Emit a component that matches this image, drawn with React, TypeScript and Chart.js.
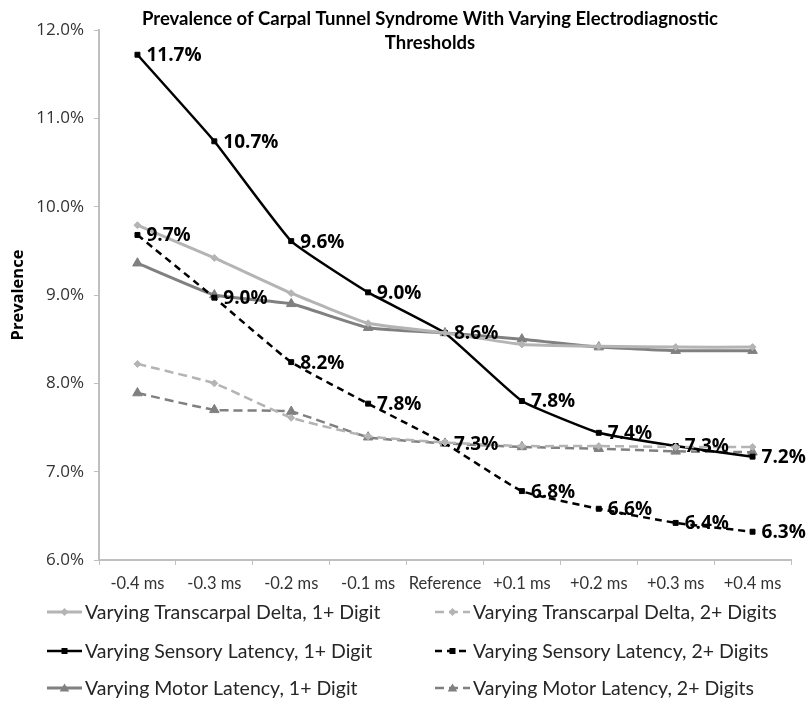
import React, { useEffect, useRef } from 'react';
import { Chart, registerables } from 'chart.js';

Chart.register(...registerables);

const categories = ['-0.4 ms', '-0.3 ms', '-0.2 ms', '-0.1 ms', 'Reference', '+0.1 ms', '+0.2 ms', '+0.3 ms', '+0.4 ms'];
const transcarpal1 = [9.79, 9.42, 9.02, 8.68, 8.57, 8.44, 8.42, 8.41, 8.41];
const transcarpal2 = [8.22, 8.0, 7.61, 7.4, 7.33, 7.29, 7.29, 7.28, 7.28];
const sensory1 = [11.72, 10.74, 9.61, 9.03, 8.57, 7.8, 7.44, 7.29, 7.17];
const sensory2 = [9.68, 8.97, 8.24, 7.77, 7.32, 6.78, 6.58, 6.42, 6.32];
const motor1 = [9.36, 9.0, 8.9, 8.63, 8.57, 8.5, 8.41, 8.37, 8.37];
const motor2 = [7.89, 7.7, 7.68, 7.39, 7.32, 7.28, 7.26, 7.23, 7.22];
const seriesNames = [
  'Varying Transcarpal Delta, 1+ Digit',
  'Varying Transcarpal Delta, 2+ Digits',
  'Varying Sensory Latency, 1+ Digit',
  'Varying Sensory Latency, 2+ Digits',
  'Varying Motor Latency, 1+ Digit',
  'Varying Motor Latency, 2+ Digits',
];
const labelledSeries = [2, 3];
const titleLines = ['Prevalence of Carpal Tunnel Syndrome With Varying Electrodiagnostic', 'Thresholds'];
const yAxisTitle = 'Prevalence';
const yMin = 6;
const yMax = 12;
const yStep = 1;

const LIGHT = '#b4b4b4';
const DARK = '#808080';
const BLACK = '#000000';

function drawMarker(ctx: CanvasRenderingContext2D, style: string, x: number, y: number, r: number, color: string) {
  ctx.save();
  ctx.fillStyle = color;
  ctx.setLineDash([]);
  ctx.beginPath();
  if (style === 'rect') {
    ctx.rect(x - r, y - r, 2 * r, 2 * r);
  } else if (style === 'rectRot') {
    ctx.moveTo(x, y - r * 1.3);
    ctx.lineTo(x + r * 1.3, y);
    ctx.lineTo(x, y + r * 1.3);
    ctx.lineTo(x - r * 1.3, y);
    ctx.closePath();
  } else {
    const s = r * 1.6;
    ctx.moveTo(x, y - s * 0.7);
    ctx.lineTo(x + s * 0.75, y + s * 0.55);
    ctx.lineTo(x - s * 0.75, y + s * 0.55);
    ctx.closePath();
  }
  ctx.fill();
  ctx.restore();
}

const overlayPlugin = {
  id: 'overlay',
  afterDatasetsDraw(chart: any) {
    const ctx: CanvasRenderingContext2D = chart.ctx;
    ctx.save();
    // data labels
    ctx.font = 'bold 19px "Open Sans"';
    ctx.fillStyle = '#000';
    ctx.textAlign = 'left';
    ctx.textBaseline = 'middle';
    labelledSeries.forEach((di) => {
      const meta = chart.getDatasetMeta(di);
      meta.data.forEach((pt: any, i: number) => {
        const v = chart.data.datasets[di].data[i] as number;
        ctx.fillText(v.toFixed(1) + '%', pt.x + 9, pt.y + 1);
      });
    });
    // title
    const ca = chart.chartArea;
    ctx.font = 'bold 18.5px Lato';
    ctx.textAlign = 'center';
    const cx = (ca.left + ca.right) / 2 - 15;
    ctx.fillText(titleLines[0], cx, 19);
    ctx.fillText(titleLines[1], cx, 43);
    // legend
    const colX = [47, 435];
    const rowY = [612, 651, 688];
    ctx.font = '19.5px Lato';
    ctx.textAlign = 'left';
    chart.data.datasets.forEach((ds: any, i: number) => {
      const col = i % 2;
      const row = Math.floor(i / 2);
      const x0 = colX[col];
      const y = rowY[row];
      ctx.save();
      ctx.strokeStyle = ds.borderColor;
      ctx.lineWidth = ds.borderWidth;
      ctx.setLineDash(ds.borderDash || []);
      ctx.beginPath();
      ctx.moveTo(x0, y);
      ctx.lineTo(x0 + 35, y);
      ctx.stroke();
      ctx.restore();
      drawMarker(ctx, ds.pointStyle, x0 + 17.5, y, ds.pointStyle === 'triangle' ? 4 : 3, ds.borderColor);
      ctx.fillStyle = '#262626';
      ctx.fillText(ds.label, x0 + 38, y + 1);
    });
    ctx.restore();
  },
};

function makeDataset(label: string, data: number[], color: string, style: string, dashed: boolean, width: number, radius: number) {
  return {
    label,
    data,
    borderColor: color,
    backgroundColor: color,
    pointBackgroundColor: color,
    pointBorderColor: color,
    borderWidth: width,
    borderDash: dashed ? (color === BLACK ? [7, 5] : [9, 5]) : [],
    pointStyle: style,
    pointRadius: radius,
    pointBorderWidth: 1,
    tension: 0.12,
    fill: false,
  };
}

export default function App() {
  const canvasRef = useRef<HTMLCanvasElement | null>(null);

  useEffect(() => {
    document.body.style.margin = '0';
    const canvas = canvasRef.current;
    if (!canvas) return;
    const chart = new Chart(canvas, {
      type: 'line',
      data: {
        labels: categories,
        datasets: [
          makeDataset(seriesNames[0], transcarpal1, LIGHT, 'rectRot', false, 3, 3.5),
          makeDataset(seriesNames[1], transcarpal2, LIGHT, 'rectRot', true, 2.5, 3.5),
          makeDataset(seriesNames[2], sensory1, BLACK, 'rect', false, 2.5, 3.5),
          makeDataset(seriesNames[3], sensory2, BLACK, 'rect', true, 2.5, 3.5),
          makeDataset(seriesNames[4], motor1, DARK, 'triangle', false, 3, 5.5),
          makeDataset(seriesNames[5], motor2, DARK, 'triangle', true, 2.5, 5.5),
        ] as any,
      },
      options: {
        animation: false,
        responsive: false,
        layout: { padding: { top: 30, right: 15, bottom: 0, left: 0 } },
        plugins: {
          legend: { display: false },
          title: { display: false },
          tooltip: { enabled: false },
        },
        scales: {
          x: {
            type: 'category',
            offset: true,
            afterFit: (s: any) => {
              s.height = 142;
            },
            grid: { offset: true, drawOnChartArea: false, drawTicks: true, tickLength: 5, color: '#bfbfbf' },
            border: { color: '#bfbfbf', width: 2 },
            ticks: { font: { family: 'Lato', size: 16.5 }, color: '#333', autoSkip: false, maxRotation: 0, padding: 9 },
          },
          y: {
            min: yMin,
            max: yMax,
            afterFit: (s: any) => {
              s.width = 99;
            },
            grid: { drawOnChartArea: false, drawTicks: true, tickLength: 5, color: '#bfbfbf' },
            border: { color: '#bfbfbf', width: 2 },
            ticks: {
              stepSize: yStep,
              font: { family: '"Open Sans"', size: 17 },
              color: '#333',
              padding: 10,
              callback: (v: any) => Number(v).toFixed(1) + '%',
            },
            title: {
              display: true,
              text: yAxisTitle,
              font: { family: '"Open Sans"', size: 16.5, weight: 'bold' },
              color: '#000',
              padding: { top: 8, bottom: 0 },
            },
          },
        },
      } as any,
      plugins: [overlayPlugin],
    });
    return () => chart.destroy();
  }, []);

  return <canvas ref={canvasRef} width={806} height={702} style={{ display: 'block' }} />;
}
